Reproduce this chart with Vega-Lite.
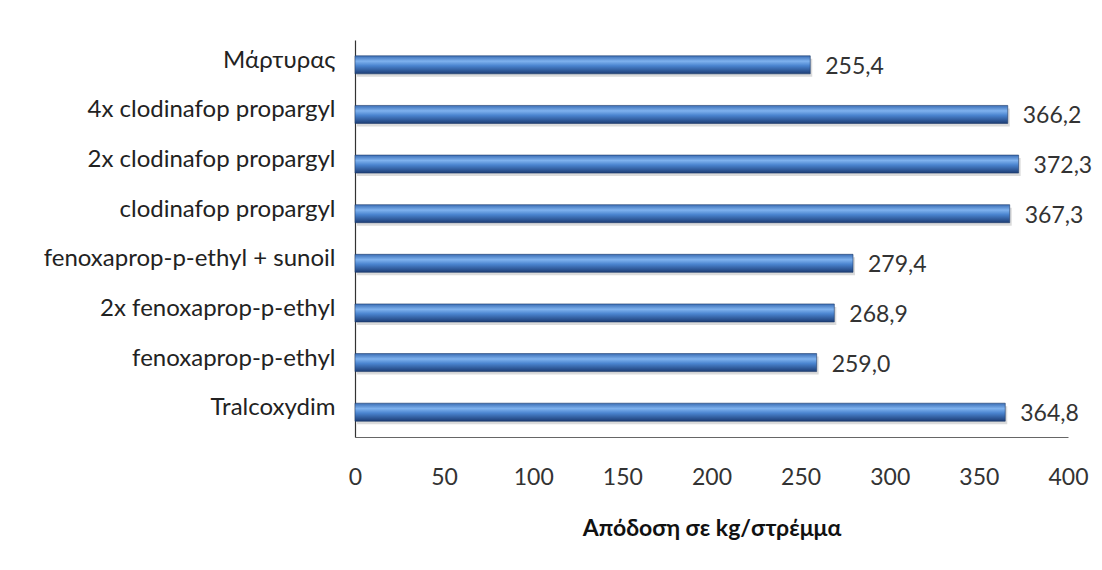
{
  "$schema": "https://vega.github.io/schema/vega-lite/v6.json",
  "autosize": {"type": "none"},
  "padding": {"left": 355, "top": 40, "right": 34, "bottom": 133},
  "width": 713,
  "height": 397,
  "background": "white",
  "config": {
    "view": {"stroke": null},
    "font": "Lato",
    "locale": {"number": {"decimal": ",", "thousands": ".", "grouping": [3], "currency": ["", " €"]}}
  },
  "data": {
    "values": [
      {"treatment": "Μάρτυρας", "yield": 255.4},
      {"treatment": "4x clodinafop propargyl", "yield": 366.2},
      {"treatment": "2x clodinafop propargyl", "yield": 372.3},
      {"treatment": "clodinafop propargyl", "yield": 367.3},
      {"treatment": "fenoxaprop-p-ethyl + sunoil", "yield": 279.4},
      {"treatment": "2x fenoxaprop-p-ethyl", "yield": 268.9},
      {"treatment": "fenoxaprop-p-ethyl", "yield": 259.0},
      {"treatment": "Tralcoxydim", "yield": 364.8}
    ]
  },
  "encoding": {
    "y": {
      "field": "treatment", "type": "nominal", "sort": null,
      "axis": {"title": null, "ticks": false, "domain": true, "domainColor": "#333", "domainWidth": 1.2,
               "labelFontSize": 24, "labelColor": "#222", "labelPadding": 20, "labelOffset": -4, "labelLimit": 350, "labelFont": "Lato"}
    },
    "x": {
      "field": "yield", "type": "quantitative",
      "scale": {"domain": [0, 400], "nice": false},
      "axis": {"title": "Απόδοση  σε kg/στρέμμα", "titleFontSize": 23, "titleFontWeight": "bold", "titleColor": "#111",
               "titlePadding": 28, "values": [0, 50, 100, 150, 200, 250, 300, 350, 400], "format": "d",
               "ticks": false, "grid": false, "domain": true, "domainColor": "#666", "domainWidth": 1,
               "labelFlush": false, "labelFontSize": 23, "labelColor": "#333", "labelPadding": 29}
    }
  },
  "layer": [
    {
      "mark": {"type": "bar", "size": 18, "color": "#999", "opacity": 0.35, "yOffset": 3, "xOffset": 2}
    },
    {
      "mark": {
        "type": "bar", "size": 18, "stroke": "#1c3a6a", "strokeWidth": 0.6,
        "color": {"gradient": "linear", "x1": 0, "y1": 0, "x2": 0, "y2": 1,
                  "stops": [{"offset": 0, "color": "#3a6db5"}, {"offset": 0.3, "color": "#7fb2ee"},
                            {"offset": 0.55, "color": "#4a84cf"}, {"offset": 1, "color": "#1d3d75"}]}
      }
    },
    {
      "mark": {"type": "text", "align": "left", "dx": 15, "dy": 2, "fontSize": 23, "color": "#333"},
      "encoding": {"text": {"field": "yield", "type": "quantitative", "format": ".1f"}}
    }
  ]
}
